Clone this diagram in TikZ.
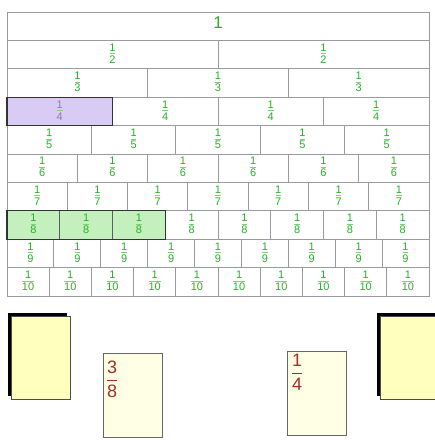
\documentclass[tikz,border=0pt]{standalone}
\usepackage{fontspec}
\setsansfont{Liberation Sans}
\definecolor{gridgray}{HTML}{9A9AA6}
\definecolor{fracgreen}{HTML}{28B028}
\definecolor{hlpurple}{HTML}{D8CCF4}
\definecolor{hlgreen}{HTML}{C4F0BE}
\definecolor{purpletext}{HTML}{8A7CB0}
\definecolor{cardyellow}{HTML}{FFFFBE}
\definecolor{cardcream}{HTML}{FFFFE6}
\definecolor{darkred}{HTML}{A0302A}
\tikzset{
  cell/.style={draw=gridgray, line width=0.8pt, rectangle, inner sep=0pt, outer sep=0pt,
    anchor=north west, minimum height=28.4pt},
  fraclabel/.style={text=fracgreen, font=\sffamily\fontsize{11}{12}\selectfont, inner sep=0pt, align=center},
  fracbar/.style={draw=fracgreen!60, line width=0.5pt},
  hlbox/.style={draw=black!80, line width=1.3pt},
  shadowcard/.style={fill=black},
  yellowcard/.style={fill=cardyellow, draw=black!70, line width=0.8pt},
  fraccard/.style={fill=cardcream, draw=black!60, line width=0.9pt, rectangle, inner sep=0pt,
    anchor=north west, minimum width=59pt, minimum height=84pt},
  cardlabel/.style={text=darkred, font=\sffamily\fontsize{18}{24}\selectfont, inner sep=0pt, align=center, anchor=north west},
  cardbar/.style={draw=darkred, line width=1pt}
}
\begin{document}
\begin{tikzpicture}[x=1pt,y=-1pt]
\useasboundingbox (0,0) rectangle (435,440);
\fill[white] (0,0) rectangle (435,440);
\clip (0,0) rectangle (435,440);
% top row
\node[cell, minimum width=422pt] (c-1-1) at (7,12) {};
\node[text=fracgreen, font=\sffamily\fontsize{17}{17}\selectfont, anchor=north, inner sep=0pt]
  (one) at (218,17) {1};
% other rows
\foreach \n in {2,...,10}{
  \foreach \k in {1,...,\n}{
    \node[cell, minimum width={422pt/\n}] (c-\n-\k)
      at ({7+(\k-1)*422/\n},{12+(\n-1)*28.4}) {};
  }
}
% highlight fills
\fill[hlpurple] (c-4-1.north west) rectangle (c-4-1.south east);
\fill[hlgreen] (c-8-1.north west) rectangle (c-8-3.south east);
\draw[gridgray!60!black, line width=0.8pt] (c-8-1.north east) -- (c-8-1.south east)
  (c-8-2.north east) -- (c-8-2.south east);
\draw[hlbox] (c-4-1.north west) rectangle (c-4-1.south east);
\draw[hlbox] (c-8-1.north west) rectangle (c-8-3.south east);
% labels
\foreach \n in {2,...,10}{
  \foreach \k in {1,...,\n}{
    \ifnum\n=4 \ifnum\k=1 \tikzset{fraclabel/.append style={text=purpletext}}\fi\fi
    \node[fraclabel] (f-\n-\k) at ([yshift=1pt]c-\n-\k.center) {1\\\n};
    \draw[fracbar] ([xshift=0.5pt]f-\n-\k.west) -- ([xshift=-0.5pt]f-\n-\k.east);
  }
}
% cards
\fill[shadowcard] (8,313) rectangle (67,396);
\filldraw[yellowcard] (11,316) rectangle (70,399);
\fill[shadowcard] (377,313) rectangle (445,396);
\filldraw[yellowcard] (380,316) rectangle (445,399);
\node[fraccard] (card38) at (103,353) {};
\node[cardlabel] (lab38) at ([xshift=4pt,yshift=-8pt]card38.north west) {3\\8};
\draw[cardbar] ([yshift=-1pt]lab38.west) -- ([yshift=-1pt]lab38.east);
\node[fraccard] (card14) at (287,351) {};
\node[cardlabel] (lab14) at ([xshift=5pt,yshift=-3pt]card14.north west) {1\\4};
\draw[cardbar] ([yshift=-1pt]lab14.west) -- ([yshift=-1pt]lab14.east);
\end{tikzpicture}
\end{document}
